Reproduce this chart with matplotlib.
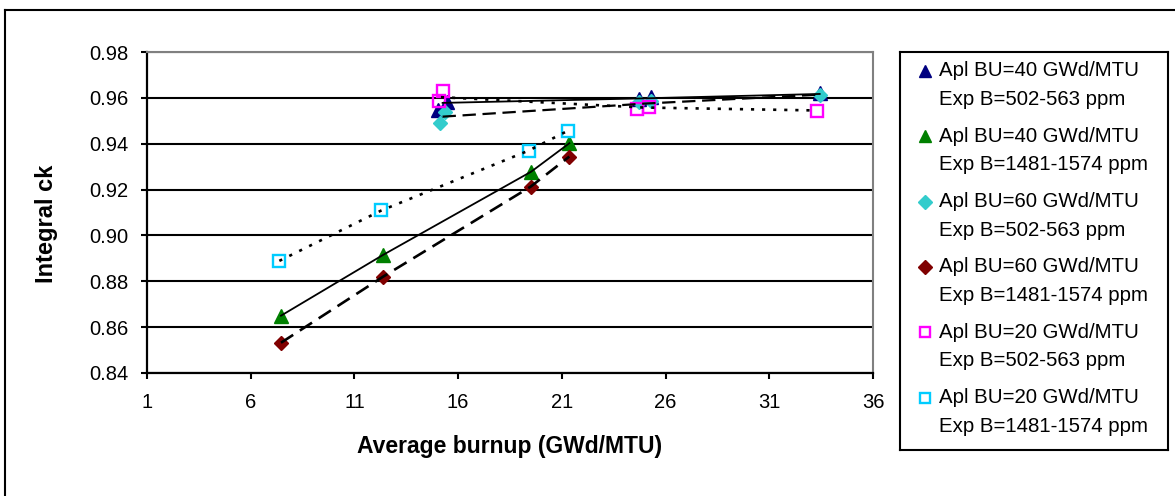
import matplotlib
matplotlib.use("Agg")
from matplotlib import pyplot as plt
from matplotlib.lines import Line2D

plt.rcParams["font.family"] = ["Liberation Sans", "DejaVu Sans"]

# ------------------------------------------------------------------------ DATA
# markers: (burnup, integral ck)
navy_x = [15.05, 15.46, 24.7, 25.3, 33.43]
navy_y = [0.9547, 0.9583, 0.9597, 0.9605, 0.9620]

green_x = [7.46, 12.38, 19.52, 21.36]
green_y = [0.8650, 0.8915, 0.9278, 0.9402]

teal_x = [15.14, 15.38, 24.7, 25.3, 33.43]
teal_y = [0.9492, 0.9540, 0.9583, 0.9587, 0.9613]

red_x = [7.46, 12.38, 19.50, 21.36]
red_y = [0.8532, 0.8820, 0.9213, 0.9344]

pink_x = [15.26, 15.07, 24.6, 25.2, 33.3]
pink_y = [0.9631, 0.9587, 0.9552, 0.9559, 0.9544]

sky_x = [7.38, 12.30, 19.40, 21.30]
sky_y = [0.8889, 0.9109, 0.9370, 0.9457]

# connecting lines (group averages)
solid_up_x = [15.25, 25.0, 33.43]
solid_up_y = [0.9578, 0.9598, 0.9617]
dash_up_x = [15.25, 25.0, 33.43]
dash_up_y = [0.9518, 0.9575, 0.9614]
dot_up_x = [15.17, 24.9, 33.3]
dot_up_y = [0.9603, 0.9558, 0.9545]

labels = [
    ("Apl BU=40 GWd/MTU", "Exp B=502-563 ppm"),
    ("Apl BU=40 GWd/MTU", "Exp B=1481-1574 ppm"),
    ("Apl BU=60 GWd/MTU", "Exp B=502-563 ppm"),
    ("Apl BU=60 GWd/MTU", "Exp B=1481-1574 ppm"),
    ("Apl BU=20 GWd/MTU", "Exp B=502-563 ppm"),
    ("Apl BU=20 GWd/MTU", "Exp B=1481-1574 ppm"),
]

xticks = [1, 6, 11, 16, 21, 26, 31, 36]
yticks = [0.84, 0.86, 0.88, 0.90, 0.92, 0.94, 0.96, 0.98]

# ---------------------------------------------------------------------- STYLES
styles = [
    dict(marker="^", ms=9.5, color="#000080", mfc="#000080", mec="#000080"),
    dict(marker="^", ms=9.5, color="#008000", mfc="#008000", mec="#008000"),
    dict(marker="D", ms=7.5, color="#33CCCC", mfc="#33CCCC", mec="#33CCCC"),
    dict(marker="D", ms=7.5, color="#800000", mfc="#800000", mec="#800000"),
    dict(marker="s", ms=8.3, color="#FF00FF", mfc="none", mec="#FF00FF", mew=1.7),
    dict(marker="s", ms=8.3, color="#00CCFF", mfc="none", mec="#00CCFF", mew=1.7),
]
series = [(navy_x, navy_y), (green_x, green_y), (teal_x, teal_y),
          (red_x, red_y), (pink_x, pink_y), (sky_x, sky_y)]

# ---------------------------------------------------------------------- FIGURE
W, H = 1175, 496
fig = plt.figure(figsize=(W / 100, H / 100), dpi=100)
ax = fig.add_axes([147 / W, 1 - 373 / H, 726 / W, 321 / H])

for (x, y), st in zip(series, styles):
    ax.plot(x, y, ls="none", zorder=3, **st)

# lines on top of markers
ax.plot(solid_up_x, solid_up_y, "k-", lw=1.3, zorder=4)
ax.plot(dash_up_x, dash_up_y, "k", ls=(0, (6, 3)), lw=1.6, zorder=4)
ax.plot(dot_up_x, dot_up_y, "k", ls=(0, (1.2, 3)), lw=1.9, zorder=4)
ax.plot(green_x, green_y, "k-", lw=1.3, zorder=4)
ax.plot(red_x, red_y, "k", ls=(0, (5.5, 3)), lw=1.9, zorder=4)
ax.plot(sky_x, sky_y, "k", ls=(0, (1.2, 3)), lw=1.9, zorder=4)

ax.set_xlim(1, 36)
ax.set_ylim(0.84, 0.98)
ax.set_xticks(xticks)
ax.set_yticks(yticks)
ax.set_xticklabels([str(t) for t in xticks])
ax.set_yticklabels([f"{t:.2f}" for t in yticks])
ax.tick_params(direction="out", length=4.5, width=1.5, labelsize=14.5, color="black")
ax.tick_params(axis="x", pad=10)
ax.tick_params(axis="y", pad=9)
ax.yaxis.grid(True, color="black", lw=1.5)
ax.set_axisbelow(True)
for side in ["left", "bottom"]:
    ax.spines[side].set_color("black")
    ax.spines[side].set_linewidth(1.6)
for side in ["top", "right"]:
    ax.spines[side].set_color("#808080")
    ax.spines[side].set_linewidth(1.5)

ax.set_xlabel("Average burnup (GWd/MTU)", fontsize=16.5, fontweight="bold")
ax.set_ylabel("Integral ck", fontsize=17, fontweight="bold")
ax.xaxis.set_label_coords(0.5, -(435 - 373) / 321)
ax.yaxis.set_label_coords(-(147 - 58) / 726, (373 - 224) / 321)

# ---------------------------------------------------------------------- LEGEND
lax = fig.add_axes([900 / W, 1 - 450 / H, 268 / W, 398 / H])
lax.set_xlim(0, 268)
lax.set_ylim(398, 0)
lax.set_xticks([])
lax.set_yticks([])
for sp in lax.spines.values():
    sp.set_linewidth(1.5)
    sp.set_color("black")
for i, ((l1, l2), st) in enumerate(zip(labels, styles)):
    y0 = 19 + 65.3 * i
    lst = dict(st)
    lst["ms"] = st["ms"] * 0.9
    lax.plot([25], [y0], ls="none", **lst)
    lax.text(39, y0, l1, fontsize=14.7, va="center", ha="left")
    lax.text(39, y0 + 28.5, l2, fontsize=14.7, va="center", ha="left")

# outer chart border
fig.add_artist(Line2D([5 / W, 5 / W], [0, 1 - 10 / H], color="black", lw=1.5))
fig.add_artist(Line2D([5 / W, 1], [1 - 10 / H, 1 - 10 / H], color="black", lw=1.5))

fig.savefig("out.png", dpi=100)
